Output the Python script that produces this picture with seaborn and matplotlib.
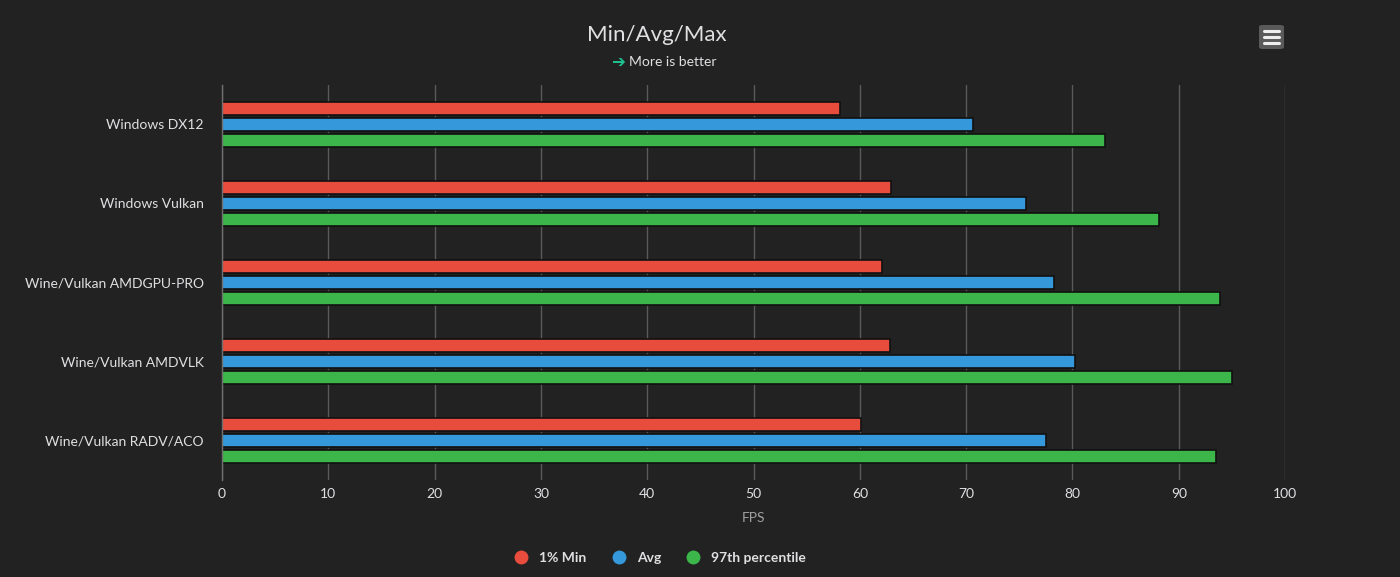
import numpy as np
import pandas as pd
import seaborn as sns
import matplotlib.pyplot as plt
from matplotlib.patches import FancyBboxPatch
from matplotlib.lines import Line2D

# data
categories = ["Windows DX12", "Windows Vulkan", "Wine/Vulkan AMDGPU-PRO",
              "Wine/Vulkan AMDVLK", "Wine/Vulkan RADV/ACO"]
min_1pct = [58.1, 62.9, 62.1, 62.8, 60.1]
avg_fps = [70.6, 75.6, 78.3, 80.2, 77.5]
p97_fps = [83.1, 88.1, 93.9, 95.0, 93.5]
series_names = ["1% Min", "Avg", "97th percentile"]
x_ticks = [0, 10, 20, 30, 40, 50, 60, 70, 80, 90, 100]

colors = ["#e74c3c", "#3498db", "#3cb54a"]
bg = "#222222"
text_col = "#e0e0e3"

df = pd.DataFrame({
    "name": categories * 3,
    "series": [s for s in series_names for _ in categories],
    "fps": min_1pct + avg_fps + p97_fps,
})

sns.set_theme(style="dark")
plt.rcParams['font.family'] = ['Lato', 'DejaVu Sans']

fig = plt.figure(figsize=(14, 5.77), dpi=100, facecolor=bg)
ax = fig.add_axes([0.1586, 0.168, 0.7593, 0.685])
ax.set_facecolor(bg)

sns.barplot(data=df, y="name", x="fps", hue="series", order=categories,
            hue_order=series_names, palette=colors, width=0.6, orient="h",
            edgecolor="#111111", linewidth=1.2, saturation=1, ax=ax, legend=False)

# thinner bars with small gaps, like the original
for p in ax.patches:
    c = p.get_y() + p.get_height() / 2
    h = 0.165
    p.set_y(c - h / 2)
    p.set_height(h)

ax.set_xlim(0, 100)
ax.set_ylim(len(categories) - 0.5, -0.5)
ax.set_xticks(x_ticks)
ax.set_xticklabels([str(t) for t in x_ticks], color=text_col, fontsize=10)
ax.tick_params(axis="x", length=0, pad=6)
ax.tick_params(axis="y", length=0, pad=13, labelsize=10, labelcolor=text_col)
ax.set_ylabel("")
ax.set_xlabel("FPS", color="#a0a0a3", fontsize=10, labelpad=8)
ax.grid(axis="x", color="#5a5a5a", linewidth=1)
ax.grid(axis="y", visible=False)
ax.set_axisbelow(True)
for side in ["top", "right", "bottom"]:
    ax.spines[side].set_visible(False)
ax.spines["left"].set_color("#707070")
ax.spines["left"].set_linewidth(1)

# title and subtitle
fig.text(0.469, 0.94, "Min/Avg/Max", ha="center", va="center",
         color=text_col, fontsize=16)
fig.text(0.4415, 0.893, "\u2794", ha="center", va="center", color="#1fbf8f",
         fontsize=12, family=['DejaVu Sans'], fontweight="bold")
fig.text(0.449, 0.892, "More is better", ha="left", va="center",
         color=text_col, fontsize=10)

# menu button
fig.patches.append(FancyBboxPatch((1259 / 1400, 1 - 49 / 577), 25 / 1400, 24 / 577,
                                  boxstyle="round,pad=0,rounding_size=0.003",
                                  transform=fig.transFigure, facecolor="#5a5a5a",
                                  edgecolor="none"))
for yy in [31, 37, 43]:
    fig.lines.append(Line2D([1264 / 1400, 1279 / 1400], [1 - yy / 577] * 2,
                            transform=fig.transFigure, color="#eeeeee", linewidth=2.2))

# legend
handles = [Line2D([0], [0], marker="o", linestyle="", markersize=10,
                  markerfacecolor=c, markeredgecolor="none") for c in colors]
leg = fig.legend(handles, series_names, loc="center", bbox_to_anchor=(0.469, 0.033),
                 ncol=3, frameon=False, handletextpad=0.3, columnspacing=1.3,
                 prop={"weight": "bold", "size": 10})
for t in leg.get_texts():
    t.set_color(text_col)

fig.savefig("out.png", dpi=100, facecolor=bg)
